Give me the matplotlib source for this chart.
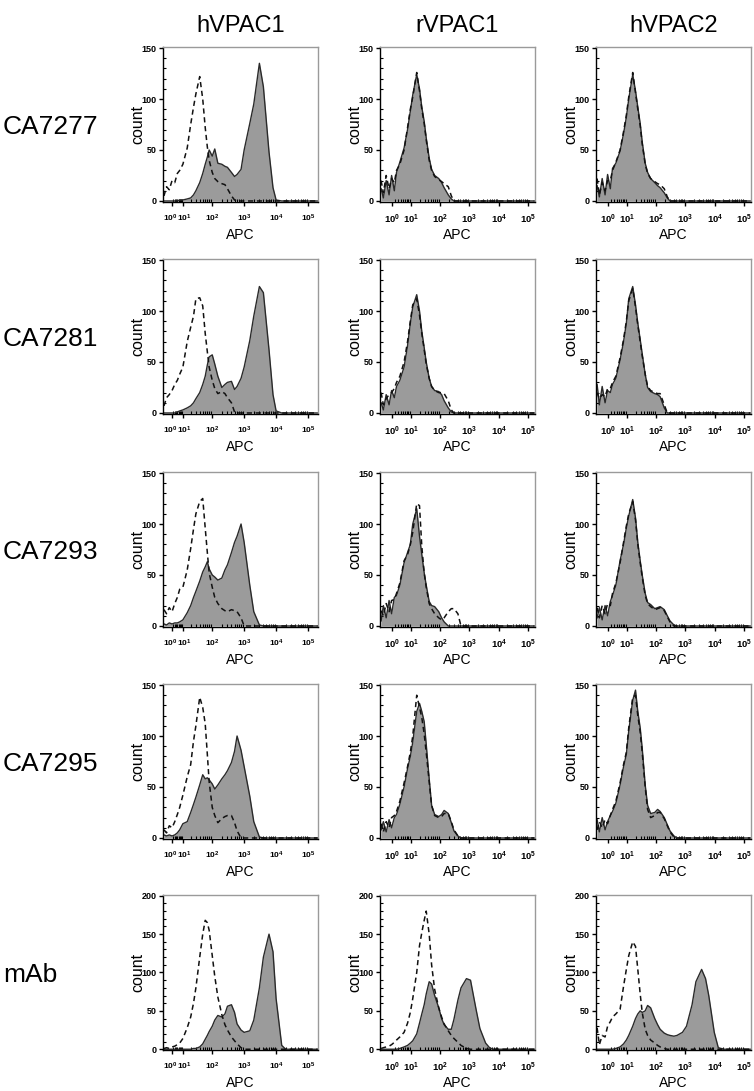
import matplotlib
matplotlib.use('Agg')
import matplotlib.pyplot as plt
import matplotlib.transforms as mtransforms
from matplotlib.ticker import FixedLocator, FixedFormatter, MultipleLocator

plt.rcParams['font.family'] = ['Liberation Sans', 'DejaVu Sans']
plt.rcParams['mathtext.fontset'] = 'custom'
plt.rcParams['mathtext.rm'] = 'Liberation Sans'
plt.rcParams['mathtext.bf'] = 'Liberation Sans:bold'

# APC channel values of the histogram points.
# hVPAC1 panels were exported with a wider linear region than the other two,
# so the two display scales get their own channel lists.
apc_wide = [-5, -3, -1, 1, 3, 5, 7, 10, 15, 20,
            25, 30, 40, 50, 60, 70, 80, 100, 120, 150,
            200, 250, 300, 400, 500, 600, 800, 1000,
            1500, 2000, 3000, 4000, 6000, 8000, 10000, 15000, 20000, 30000,
            50000, 100000, 200000]
apc_narrow = [-2.1, -1.4, -0.6, 0.2, 0.9, 1.7, 2.4, 3.6, 5.5, 7.5,
              9.5, 11.6, 16, 20, 24, 29, 34, 43, 52, 66,
              91, 114, 139, 192, 244, 300, 409, 522,
              800, 1100, 1700, 2300, 3600, 4900, 6300, 9700, 13300, 20800,
              36000, 76000, 163000]

receptors = ['hVPAC1', 'rVPAC1', 'hVPAC2']
samples = ['CA7277', 'CA7281', 'CA7293', 'CA7295', 'mAb']
ymax = [150, 150, 150, 150, 200]
yticks = [[0, 50, 100, 150]] * 4 + [[0, 50, 100, 150, 200]]
xtick_vals = [1, 10, 100, 1000, 10000, 100000]
xtick_labels = [r'$\mathbf{10^{%d}}$' % k for k in range(6)]

Z13 = [0] * 13

# filled = stained sample, dashed = control; counts per channel point
ca7277_h1_fill = [0, 0, 0, 0, 0, 0, 1, 1, 2, 3,
                  6, 10, 18, 27, 36, 43, 50, 44, 51, 37,
                  36, 34, 33, 28, 24, 26, 31, 50,
                  76, 95, 135, 112, 48, 13, 1, 0, 0, 0, 0, 0, 0]
ca7277_h1_dash = [5, 14, 11, 20, 18, 27, 30, 36, 52, 75,
                  92, 105, 122, 100, 72, 53, 40, 28, 22, 19,
                  17, 16, 12, 5, 1, 0, 0, 0] + Z13
ca7277_r1_fill = [12, 3, 20, 6, 25, 10, 28, 38, 52, 70,
                  88, 104, 124, 110, 92, 78, 62, 42, 31, 25,
                  22, 18, 13, 6, 2, 0, 0, 0] + Z13
ca7277_r1_dash = [20, 8, 25, 12, 22, 18, 30, 36, 50, 72,
                  90, 102, 126, 108, 90, 76, 60, 40, 30, 24,
                  21, 19, 17, 14, 5, 0, 0, 0] + Z13
ca7277_h2_fill = [15, 4, 22, 6, 26, 12, 32, 37, 49, 66,
                  82, 100, 124, 108, 92, 76, 58, 37, 28, 22,
                  18, 15, 13, 8, 3, 0, 0, 0] + Z13
ca7277_h2_dash = [22, 6, 18, 10, 20, 20, 30, 38, 50, 68,
                  84, 102, 126, 106, 90, 74, 56, 36, 27, 22,
                  19, 17, 16, 12, 4, 0, 0, 0] + Z13

ca7281_h1_fill = [0, 0, 0, 0, 0, 1, 2, 3, 5, 7,
                  10, 14, 20, 28, 36, 47, 55, 57, 48, 36,
                  25, 28, 30, 31, 23, 26, 34, 45,
                  71, 95, 124, 118, 62, 18, 2, 0, 0, 0, 0, 0, 0]
ca7281_h1_dash = [7, 15, 18, 22, 28, 32, 38, 45, 70, 84,
                  95, 112, 113, 105, 78, 60, 45, 32, 24, 19,
                  21, 19, 15, 10, 1, 0, 0, 0] + Z13
ca7281_r1_fill = [10, 3, 18, 8, 22, 15, 26, 32, 45, 66,
                  88, 104, 116, 100, 80, 64, 50, 34, 26, 22,
                  21, 18, 12, 5, 1, 0, 0, 0] + Z13
ca7281_r1_dash = [20, 8, 14, 18, 20, 24, 30, 36, 50, 70,
                  90, 106, 112, 96, 78, 62, 48, 34, 26, 22,
                  20, 20, 19, 12, 3, 0, 0, 0] + Z13
ca7281_h2_fill = [28, 8, 26, 10, 22, 20, 28, 34, 52, 70,
                  88, 112, 124, 106, 88, 72, 58, 38, 25, 21,
                  19, 18, 16, 5, 0, 0, 0, 0] + Z13
ca7281_h2_dash = [20, 14, 18, 16, 24, 24, 30, 36, 54, 72,
                  90, 110, 122, 104, 86, 70, 56, 38, 26, 22,
                  20, 19, 19, 8, 0, 0, 0, 0] + Z13

ca7293_h1_fill = [2, 1, 3, 2, 3, 3, 4, 6, 13, 20,
                  28, 34, 44, 53, 58, 63, 56, 50, 48, 45,
                  47, 55, 60, 72, 82, 88, 100, 82,
                  40, 14, 1, 0, 0, 0, 0, 0, 0, 0, 0, 0, 0]
ca7293_h1_dash = [16, 12, 18, 14, 22, 28, 36, 38, 55, 76,
                  95, 110, 122, 125, 96, 72, 52, 38, 28, 22,
                  17, 15, 14, 16, 15, 14, 8, 0] + Z13
ca7293_r1_fill = [5, 20, 8, 25, 12, 28, 30, 40, 62, 72,
                  80, 100, 115, 88, 70, 52, 40, 24, 20, 19,
                  14, 8, 4, 0, 0, 0, 0, 0] + Z13
ca7293_r1_dash = [15, 10, 22, 14, 25, 26, 32, 42, 64, 70,
                  80, 92, 120, 118, 78, 52, 38, 22, 17, 12,
                  8, 6, 8, 14, 17, 17, 12, 0] + Z13
ca7293_h2_fill = [8, 18, 6, 20, 10, 24, 30, 40, 64, 80,
                  96, 108, 124, 106, 82, 64, 50, 32, 23, 21,
                  17, 18, 19, 16, 10, 5, 1, 0] + Z13
ca7293_h2_dash = [18, 8, 20, 12, 22, 20, 32, 42, 62, 82,
                  98, 110, 122, 104, 80, 62, 48, 30, 22, 19,
                  16, 17, 18, 15, 9, 4, 0, 0] + Z13

ca7295_h1_fill = [3, 2, 3, 2, 3, 5, 8, 14, 16, 25,
                  33, 40, 52, 62, 58, 59, 57, 53, 48, 52,
                  58, 62, 66, 74, 85, 100, 86, 70,
                  41, 16, 1, 0, 0, 0, 0, 0, 0, 0, 0, 0, 0]
ca7295_h1_dash = [8, 5, 12, 10, 16, 23, 30, 42, 60, 72,
                  95, 110, 138, 128, 112, 82, 55, 30, 22, 15,
                  19, 21, 22, 22, 15, 7, 0, 0] + Z13
ca7295_r1_fill = [8, 16, 6, 18, 10, 20, 23, 33, 50, 68,
                  80, 94, 124, 132, 124, 114, 92, 58, 32, 23,
                  21, 23, 27, 24, 15, 7, 2, 0] + Z13
ca7295_r1_dash = [14, 6, 16, 10, 20, 22, 26, 36, 54, 70,
                  84, 100, 140, 128, 118, 102, 84, 55, 32, 22,
                  20, 21, 24, 24, 16, 8, 2, 0] + Z13
ca7295_h2_fill = [18, 6, 20, 8, 16, 22, 26, 34, 52, 70,
                  82, 105, 135, 145, 124, 108, 88, 52, 32, 24,
                  25, 28, 26, 20, 13, 7, 2, 0] + Z13
ca7295_h2_dash = [8, 16, 10, 18, 14, 22, 28, 36, 54, 72,
                  84, 108, 138, 140, 120, 104, 84, 50, 28, 20,
                  22, 25, 25, 19, 12, 6, 1, 0] + Z13

mab_h1_fill = [0, 0, 0, 0, 0, 0, 0, 0, 0, 0,
               1, 1, 3, 7, 13, 18, 23, 30, 38, 44,
               42, 46, 56, 58, 48, 33, 25, 22,
               24, 38, 80, 120, 150, 127, 66, 5, 0, 0, 0, 0, 0]
mab_h1_dash = [1, 2, 1, 3, 4, 6, 8, 14, 28, 42,
               60, 80, 120, 150, 168, 165, 155, 122, 95, 68,
               45, 32, 25, 16, 11, 7, 2, 0] + Z13
mab_r1_fill = [0, 0, 0, 0, 0, 0, 0, 1, 3, 5,
               8, 11, 20, 34, 46, 58, 72, 88, 85, 70,
               54, 40, 32, 26, 26, 39, 64, 80,
               92, 90, 52, 27, 8, 2, 0, 0, 0, 0, 0, 0, 0]
mab_r1_dash = [1, 2, 3, 4, 6, 9, 12, 16, 22, 34,
               48, 66, 100, 135, 152, 168, 180, 150, 110, 78,
               54, 42, 33, 24, 18, 14, 9, 5,
               1, 0, 0, 0, 0, 0, 0, 0, 0, 0, 0, 0, 0]
mab_h2_fill = [0, 0, 0, 0, 0, 0, 0, 1, 3, 7,
               12, 18, 30, 40, 46, 50, 48, 50, 57, 54,
               40, 32, 26, 21, 19, 18, 17, 18,
               22, 30, 58, 88, 104, 92, 70, 22, 2, 0, 0, 0, 0]
mab_h2_dash = [28, 6, 18, 16, 30, 36, 42, 46, 52, 82,
               104, 122, 140, 134, 104, 72, 48, 26, 18, 12,
               8, 5, 3, 1, 0, 0, 0, 0] + Z13

fills = [[ca7277_h1_fill, ca7277_r1_fill, ca7277_h2_fill],
         [ca7281_h1_fill, ca7281_r1_fill, ca7281_h2_fill],
         [ca7293_h1_fill, ca7293_r1_fill, ca7293_h2_fill],
         [ca7295_h1_fill, ca7295_r1_fill, ca7295_h2_fill],
         [mab_h1_fill, mab_r1_fill, mab_h2_fill]]
dashes = [[ca7277_h1_dash, ca7277_r1_dash, ca7277_h2_dash],
          [ca7281_h1_dash, ca7281_r1_dash, ca7281_h2_dash],
          [ca7293_h1_dash, ca7293_r1_dash, ca7293_h2_dash],
          [ca7295_h1_dash, ca7295_r1_dash, ca7295_h2_dash],
          [mab_h1_dash, mab_r1_dash, mab_h2_dash]]

# per column: channel list, asinh linear width, x limits, tick label size
col_apc = [apc_wide, apc_narrow, apc_narrow]
col_width = [10, 3.5, 3.5]
col_xlim = [(-5.8, 2.05e5), (-2.46, 1.73e5), (-2.46, 1.73e5)]
col_xlab = [6, 6.8, 6.8]

minor_x = [m * 10 ** k for k in range(5) for m in range(2, 10)]

W, H = 754, 1091
fig = plt.figure(figsize=(W / 100, H / 100), dpi=100)
col_left = [163, 380, 596]
row_top = [47, 259, 472, 684, 895]
size = 155

for j, r in enumerate(receptors):
    fig.text((col_left[j] + size / 2) / W, 1 - 32 / H, r, fontsize=17,
             ha='center', va='baseline')

for i, s in enumerate(samples):
    fig.text(3 / W, 1 - (row_top[i] + 87) / H, s, fontsize=19,
             ha='left', va='baseline')
    for j in range(3):
        ax = fig.add_axes([col_left[j] / W, 1 - (row_top[i] + size) / H,
                           size / W, size / H])
        ax.set_xscale('asinh', linear_width=col_width[j])
        x = col_apc[j]
        f = fills[i][j]
        d = dashes[i][j]
        ax.fill_between(x, f, 0, color='#9b9b9b', lw=0)
        ax.plot(x, f, color='#2a2a2a', lw=1.0)
        ax.plot(x, d, color='#111111', lw=1.1, dashes=(3.4, 2.4))

        ax.set_xlim(*col_xlim[j])
        ax.set_ylim(-1, ymax[i] + 1)
        ax.xaxis.set_major_locator(FixedLocator(xtick_vals))
        ax.xaxis.set_major_formatter(FixedFormatter(xtick_labels))
        ax.xaxis.set_minor_locator(FixedLocator(minor_x))
        ax.yaxis.set_major_locator(FixedLocator(yticks[i]))
        ax.yaxis.set_minor_locator(MultipleLocator(10))
        for lab in ax.get_yticklabels():
            lab.set_fontweight('bold')
        ax.tick_params(axis='x', which='major', direction='out', length=3,
                       width=1, labelsize=col_xlab[j], pad=4.5)
        ax.tick_params(axis='y', which='major', direction='out', length=3,
                       width=1, labelsize=6.5, pad=1.5)
        ax.tick_params(which='minor', direction='in', length=2, width=0.8)

        if j == 0:
            # the 10^0 / 10^1 labels sit very close on the wide scale
            labs = ax.get_xticklabels()
            for lab, dx in [(labs[0], -2.2), (labs[1], 1.8)]:
                lab.set_transform(lab.get_transform() + mtransforms.ScaledTranslation(
                    dx / 100, 0, fig.dpi_scale_trans))

        for side in ['left', 'bottom']:
            ax.spines[side].set_color('black')
            ax.spines[side].set_linewidth(1.0)
        for side in ['top', 'right']:
            ax.spines[side].set_color('#9a9a9a')
            ax.spines[side].set_linewidth(1.0)

        ax.text(-0.165, 0.5, 'count', rotation=90, transform=ax.transAxes,
                ha='center', va='center', fontsize=11.5)
        ax.text(0.5, -0.213, 'APC', transform=ax.transAxes,
                ha='center', va='center', fontsize=10)

fig.savefig('out.png', dpi=100)
